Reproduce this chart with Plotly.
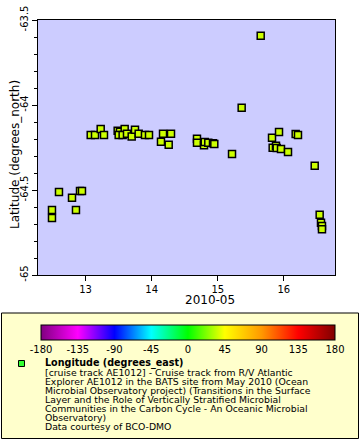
import plotly.graph_objects as go
import pandas as pd

# ---- data ----
day_of_may = [12.492, 12.492, 12.598, 12.855, 12.795, 12.916, 12.946, 13.078, 13.143, 13.229,
              13.279, 13.486, 13.521, 13.592, 13.501, 13.561, 13.627, 13.698, 13.748, 13.804,
              13.899, 13.960, 14.141, 14.172, 14.258, 14.293, 14.686, 14.686, 14.792, 14.803,
              14.857, 14.928, 14.948, 15.216, 15.362, 15.650, 15.821, 15.927, 15.831, 15.881,
              15.892, 15.957, 16.063, 16.179, 16.214, 16.467, 16.542, 16.562, 16.577, 16.577]
latitude = [-64.618, -64.665, -64.512, -64.618, -64.545, -64.506, -64.506, -64.176, -64.176, -64.141,
            -64.176, -64.151, -64.157, -64.141, -64.176, -64.176, -64.169, -64.186, -64.145, -64.169,
            -64.176, -64.176, -64.216, -64.169, -64.234, -64.169, -64.198, -64.222, -64.237, -64.218,
            -64.222, -64.225, -64.229, -64.288, -64.016, -63.592, -64.192, -64.159, -64.251, -64.239,
            -64.253, -64.259, -64.276, -64.171, -64.176, -64.357, -64.645, -64.692, -64.712, -64.731]

x_tick_days = [13, 14, 15, 16]
x_tick_labels = ["13", "14", "15", "16"]
x_range_days = [12.273, 16.774]
y_ticks = [-65, -64.5, -64, -63.5]
y_tick_labels = ["-65", "-64.5", "-64", "-63.5"]
y_range = [-65, -63.5]
cbar_ticks = [-180, -135, -90, -45, 0, 45, 90, 135, 180]
cbar_labels = ["-180", "-135", "-90", "-45", "0", "45", "90", "135", "180"]

legend_title = "Longitude (degrees_east)"
legend_lines = [
    "[cruise track AE1012] - Cruise track from R/V Atlantic",
    "Explorer AE1012 in the BATS site from May 2010 (Ocean",
    "Microbial Observatory project) (Transitions in the Surface",
    "Layer and the Role of Vertically Stratified Microbial",
    "Communities in the Carbon Cycle - An Oceanic Microbial",
    "Observatory)",
    "Data courtesy of BCO-DMO",
]

# ---- helpers ----
W, H = 360, 440
FONT = "DejaVu Sans"


def to_time(days):
    base = pd.Timestamp("2010-05-01")
    return [base + pd.Timedelta(days=d - 1) for d in days]


def fx(px):
    return px / W


def fy(py):
    return 1 - py / H


fig = go.Figure()

fig.add_trace(go.Scatter(
    x=to_time(day_of_may), y=latitude, mode="markers",
    marker=dict(symbol="square", size=7, color="#ccff00",
                line=dict(color="black", width=1.5)),
    showlegend=False, hoverinfo="x+y",
))

# dummy trace carrying the colour bar
colorscale = [
    [0.0, "#800080"], [0.125, "#ff00ff"], [0.25, "#0000ff"], [0.375, "#00ffff"],
    [0.5, "#00ff00"], [0.625, "#ffff00"], [0.75, "#ff9900"], [0.875, "#ff0000"],
    [1.0, "#800000"],
]
fig.add_trace(go.Scatter(
    x=[None], y=[None], mode="markers", showlegend=False,
    marker=dict(color=[cbar_ticks[0], cbar_ticks[-1]], cmin=cbar_ticks[0], cmax=cbar_ticks[-1],
                colorscale=colorscale, showscale=True,
                colorbar=dict(orientation="h", x=fx(188), xanchor="center",
                              y=fy(325), yanchor="top", len=294, lenmode="pixels",
                              thickness=15, thicknessmode="pixels", xpad=0, ypad=0,
                              outlinewidth=1, outlinecolor="black",
                              tickvals=cbar_ticks, ticktext=cbar_labels, ticks="",
                              tickfont=dict(family=FONT, size=10, color="black"))),
))

axis_common = dict(showline=True, linecolor="black", linewidth=1, mirror=True,
                   ticks="outside", tickcolor="black", ticklen=5, tickwidth=1,
                   showgrid=False, zeroline=False, automargin=False,
                   tickfont=dict(family=FONT, size=10, color="black"))

fig.update_layout(
    width=W, height=H, margin=dict(l=0, r=0, t=0, b=0),
    paper_bgcolor="white", plot_bgcolor="#ccccff",
    font=dict(family=FONT, color="black"),
    showlegend=False,
    xaxis=dict(domain=[fx(37.5), fx(335)], type="date",
               range=to_time(x_range_days), tickvals=to_time(x_tick_days),
               ticktext=x_tick_labels, **axis_common),
    yaxis=dict(domain=[fy(275), fy(20)], range=y_range, tickvals=y_ticks,
               ticktext=y_tick_labels, tickangle=-90,
               minor=dict(dtick=0.1, ticks="outside", ticklen=3, tickcolor="black",
                          showgrid=False),
               **axis_common),
)

# axis titles
fig.add_annotation(x=fx(210), y=fy(300), xref="paper", yref="paper",
                   xanchor="center", yanchor="middle",
                   text="2010-05", showarrow=False,
                   font=dict(family=FONT, size=12, color="black"))
fig.add_annotation(x=fx(15), y=fy(155), xref="paper", yref="paper",
                   xanchor="center", yanchor="middle",
                   text="Latitude (degrees_north)", textangle=-90, showarrow=False,
                   font=dict(family=FONT, size=12, color="black"))

# legend box
fig.add_shape(type="rect", xref="paper", yref="paper",
              x0=fx(1.5), x1=fx(358.5), y0=fy(438.5), y1=fy(313),
              fillcolor="#ffffcc", line=dict(color="black", width=1), layer="below")
fig.add_shape(type="rect", xref="paper", yref="paper",
              x0=fx(18.5), x1=fx(24.5), y0=fy(366.5), y1=fy(360.5),
              fillcolor="#33ff33", line=dict(color="black", width=1))

fig.add_annotation(x=fx(42.5), y=fy(363), xref="paper", yref="paper",
                   xanchor="left", yanchor="middle", text="<b>" + legend_title + "</b>",
                   showarrow=False, font=dict(family=FONT, size=9.6, color="black"))
for i, line in enumerate(legend_lines):
    fig.add_annotation(x=fx(42.5), y=fy(372.3 + 9.05 * i), xref="paper", yref="paper",
                       xanchor="left", yanchor="middle", text=line,
                       showarrow=False, font=dict(family=FONT, size=9.3, color="black"))

fig.write_html("out.html", config={"displayModeBar": False},
               post_script="document.body.style.margin='0px';")
